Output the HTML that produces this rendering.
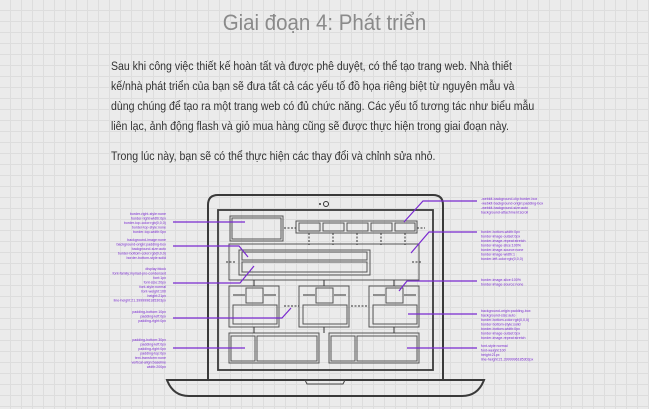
<!DOCTYPE html>
<html><head><meta charset="utf-8"><style>
html,body{margin:0;padding:0}
body{width:649px;height:409px;overflow:hidden;position:relative;background-color:#ebebeb;
background-image:linear-gradient(#dddddd 1px,transparent 1px),linear-gradient(90deg,#dddddd 1px,transparent 1px);
background-size:11px 11px;background-position:0 10px,10px 0;font-family:"Liberation Sans",sans-serif}
h1{position:absolute;left:0;width:649px;top:8px;margin:0;text-align:center;font-weight:normal;font-size:22px;color:#8a8a8a;line-height:30px;transform:scaleX(0.93)}
p{position:absolute;left:111px;width:560px;margin:0;font-size:12.4px;line-height:20px;color:#333;white-space:nowrap;transform:scaleX(0.85);transform-origin:0 0}
svg{position:absolute;left:0;top:0}
</style></head><body>
<h1>Giai đoạn 4: Phát triển</h1>
<p style="top:56px">Sau khi công việc thiết kế hoàn tất và được phê duyệt, có thể tạo trang web. Nhà thiết<br>kế/nhà phát triển của bạn sẽ đưa tất cả các yếu tố đồ họa riêng biệt từ nguyên mẫu và<br>dùng chúng để tạo ra một trang web có đủ chức năng. Các yếu tố tương tác như biểu mẫu<br>liên lạc, ảnh động flash và giỏ mua hàng cũng sẽ được thực hiện trong giai đoạn này.</p>
<p style="top:146px">Trong lúc này, bạn sẽ có thể thực hiện các thay đổi và chỉnh sửa nhỏ.</p>
<svg width="649" height="409" viewBox="0 0 649 409">
<g fill="none" stroke="#3a3a3a" stroke-width="2">
<path d="M208 380 V205 Q208 195 218 195 H433 Q443 195 443 205 V380"/>
<path d="M167 380 H484 Q478 396 462 396 H189 Q173 396 167 380 Z"/>
<rect x="218" y="210" width="215" height="160" stroke-width="1.8"/>
</g>
<circle cx="326" cy="204" r="2.5" fill="none" stroke="#333"/><circle cx="320" cy="204" r="1" fill="#333"/>
<path d="M305 380 h40 l-2 4 h-36z" fill="none" stroke="#444" stroke-width="1"/>
<g fill="none" stroke="#555" stroke-width="1">
<rect x="230" y="216" width="53" height="25"/><rect x="232" y="218" width="49" height="21"/>
<rect x="296" y="221" width="121" height="12"/>
<rect x="299" y="223" width="21" height="8"/><rect x="323" y="223" width="21" height="8"/><rect x="347" y="223" width="21" height="8"/><rect x="371" y="223" width="21" height="8"/><rect x="395" y="223" width="20" height="8"/>
<rect x="229" y="244" width="190" height="36"/>
<rect x="239" y="250" width="131" height="25"/>
<rect x="242" y="252" width="125" height="8"/><rect x="242" y="262" width="125" height="10"/>
<rect x="229" y="286" width="50" height="41"/><rect x="299" y="286" width="50" height="41"/><rect x="369" y="286" width="50" height="41"/>
<rect x="246" y="288" width="17" height="15"/><rect x="316" y="288" width="17" height="15"/><rect x="386" y="288" width="17" height="15"/>
<rect x="233" y="305" width="44" height="19"/><rect x="303" y="305" width="44" height="19"/><rect x="373" y="305" width="44" height="19"/>
<rect x="229" y="333" width="90" height="30"/><rect x="329" y="333" width="90" height="30"/>
<rect x="231" y="336" width="24" height="25"/><rect x="257" y="336" width="60" height="25"/>
<rect x="331" y="336" width="24" height="25"/><rect x="357" y="336" width="60" height="25"/>
</g>
<g stroke="#333" stroke-width="1" stroke-dasharray="2 1.5">
<path d="M284 228 H296 M417 228 H425 M284 306 H299 M351 306 H369 M309 233 V245 M333 233 V245 M357 233 V245 M381 233 V245 M405 233 V245 M226 262 H236 M412 262 H422"/>
</g>
<g stroke="#333" stroke-width="1">
<path d="M254 280 V286 M324 280 V286 M394 280 V286 M254 327 V333 M324 327 V333 M394 327 V333 M233 295 H245 M264 295 H276 M303 295 H315 M334 295 H346 M373 295 H385 M404 295 H416"/>
</g>
<g fill="none" stroke="#7a2ad0" stroke-width="1.2">
<path d="M173 222 H245"/><path d="M173 246 H239 L248 257"/><path d="M173 283 H240 L254 266"/><path d="M173 318 H282 L291 308"/><path d="M173 348 H245"/>
<path d="M477 201 H423 L404 222"/><path d="M477 232 H429 L411 253"/><path d="M477 281 H407 L399 291"/><path d="M477 314 H408"/><path d="M477 348 H407"/>
</g>
<g font-family="Liberation Sans,sans-serif" font-size="3.6" fill="#7a2ad0" text-anchor="end">
<text x="166" y="215">border-right-style:none</text><text x="166" y="219.5">border-right-width:0px</text><text x="166" y="224">border-top-color:rgb(0,0,0)</text><text x="166" y="228.5">border-top-style:none</text><text x="166" y="233">border-top-width:0px</text>
<text x="166" y="241">background-image:none</text><text x="166" y="245.5">background-origin:padding-box</text><text x="166" y="250">background-size:auto</text><text x="166" y="254.5">border-bottom-color:rgb(0,0,0)</text><text x="166" y="259">border-bottom-style:solid</text>
<text x="166" y="270">display:block</text><text x="166" y="274.5">font-family:myriad-pro-condensed</text><text x="166" y="279">font:1px</text><text x="166" y="283.5">font-size:20px</text><text x="166" y="288">font-style:normal</text><text x="166" y="292.5">font-weight:100</text><text x="166" y="297">height:21px</text><text x="166" y="301.5">line-height:21.3999996185303px</text>
<text x="166" y="313">padding-bottom:10px</text><text x="166" y="317.5">padding-left:0px</text><text x="166" y="322">padding-right:0px</text>
<text x="166" y="341">padding-bottom:30px</text><text x="166" y="345.5">padding-left:0px</text><text x="166" y="350">padding-right:0px</text><text x="166" y="354.5">padding-top:0px</text><text x="166" y="359">text-transform:none</text><text x="166" y="363.5">vertical-align:baseline</text><text x="166" y="368">width:200px</text>
</g>
<g font-family="Liberation Sans,sans-serif" font-size="3.6" fill="#7a2ad0">
<text x="481" y="200">-webkit-background-clip:border-box</text><text x="481" y="204.5">-webkit-background-origin:padding-box</text><text x="481" y="209">-webkit-background-size:auto</text><text x="481" y="213.5">background-attachment:scroll</text>
<text x="481" y="233">border-bottom-width:0px</text><text x="481" y="237.5">border-image-outset:0px</text><text x="481" y="242">border-image-repeat:stretch</text><text x="481" y="246.5">border-image-slice:100%</text><text x="481" y="251">border-image-source:none</text><text x="481" y="255.5">border-image-width:1</text><text x="481" y="260">border-left-color:rgb(0,0,0)</text>
<text x="481" y="281">border-image-slice:100%</text><text x="481" y="285.5">border-image-source:none</text>
<text x="481" y="312">background-origin:padding-box</text><text x="481" y="316.5">background-size:auto</text><text x="481" y="321">border-bottom-color:rgb(0,0,0)</text><text x="481" y="325.5">border-bottom-style:solid</text><text x="481" y="330">border-bottom-width:0px</text><text x="481" y="334.5">border-image-outset:0px</text><text x="481" y="339">border-image-repeat:stretch</text>
<text x="481" y="347">font-style:normal</text><text x="481" y="351.5">font-weight:100</text><text x="481" y="356">height:21px</text><text x="481" y="360.5">line-height:21.3999996185303px</text>
</g>
</svg>
</body></html>
